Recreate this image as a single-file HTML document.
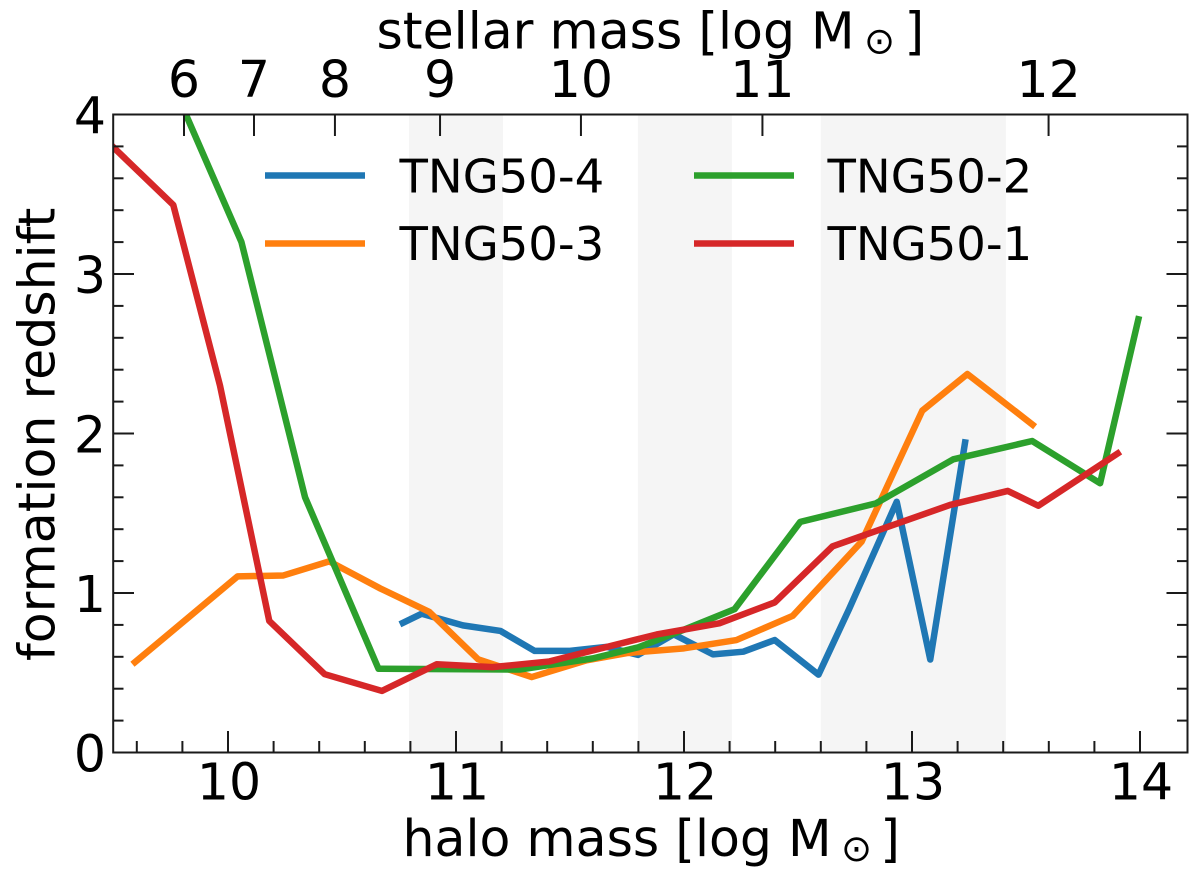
<!DOCTYPE html>
<html lang="en">
<head>
<meta charset="utf-8">
<title>Formation redshift vs halo mass</title>
<style>
  html, body { margin: 0; padding: 0; background: #fff; }
  svg { display: block; font-family: "DejaVu Sans", "Liberation Sans", sans-serif; }
  text { fill: #000; }
</style>
</head>
<body>
<svg id="chart" xmlns="http://www.w3.org/2000/svg" width="1200" height="877" viewBox="0 0 1200 877">
  <defs>
    <clipPath id="plot-clip"><rect x="113" y="114.5" width="1075" height="638"></rect></clipPath>
  </defs>
  <g id="bands"></g>
  <g id="series" clip-path="url(#plot-clip)"></g>
  <g id="ticks"></g>
  <rect x="113.2" y="114.5" width="1074.3" height="638" fill="none" stroke="#1a1a1a" stroke-width="2"></rect>
  <g id="labels" font-size="50.5"></g>

  <text x="376.5" y="48.5" font-size="50.5">stellar mass [log M<tspan font-size="37" x="864" dy="5">⊙</tspan><tspan x="904.5" dy="-5">]</tspan></text>
  <text x="402.5" y="856" font-size="50.5">halo mass [log M<tspan font-size="37" x="841" dy="5">⊙</tspan><tspan x="880.3" dy="-5">]</tspan></text>
  <text transform="translate(54.5,661) rotate(-90)" font-size="50.5">formation redshift</text>

  <g>
    <g>
      <line x1="265" x2="365" y1="175.5" y2="175.5" stroke="#1f77b4" stroke-width="6.5"></line>
      <text x="399.5" y="192.5" font-size="46.5">TNG50-4</text>
    </g>
    <g>
      <line x1="265" x2="365" y1="243.5" y2="243.5" stroke="#ff7f0e" stroke-width="6.5"></line>
      <text x="399.5" y="260" font-size="46.5">TNG50-3</text>
    </g>
    <g>
      <line x1="694" x2="794" y1="175.5" y2="175.5" stroke="#2ca02c" stroke-width="6.5"></line>
      <text x="827.5" y="192.5" font-size="46.5">TNG50-2</text>
    </g>
    <g>
      <line x1="694" x2="794" y1="243.5" y2="243.5" stroke="#d62728" stroke-width="6.5"></line>
      <text x="827.5" y="260" font-size="46.5">TNG50-1</text>
    </g>
  </g>
</svg>
<script>
// Series values: halo mass (x) and formation redshift (y)
const tng504X = [10.754, 10.85, 11.03, 11.195, 11.345, 11.5, 11.661, 11.798, 11.955, 12.127, 12.26, 12.398, 12.59, 12.724, 12.933, 13.08, 13.235];
const tng504Y = [0.804, 0.87, 0.797, 0.762, 0.637, 0.637, 0.662, 0.612, 0.741, 0.615, 0.632, 0.705, 0.488, 0.899, 1.572, 0.583, 1.964];
const tng503X = [9.581, 10.042, 10.243, 10.444, 10.67, 10.883, 11.097, 11.332, 11.573, 11.754, 12.0, 12.23, 12.477, 12.779, 12.911, 13.045, 13.243, 13.54];
const tng503Y = [0.553, 1.104, 1.11, 1.198, 1.027, 0.881, 0.584, 0.473, 0.578, 0.624, 0.653, 0.705, 0.857, 1.322, 1.73, 2.143, 2.373, 2.043];
const tng502X = [9.8, 10.059, 10.338, 10.66, 11.28, 11.6, 11.8, 12.0, 12.222, 12.51, 12.842, 13.181, 13.527, 13.825, 13.996];
const tng502Y = [4.05, 3.2, 1.6, 0.525, 0.52, 0.59, 0.66, 0.77, 0.899, 1.446, 1.562, 1.838, 1.953, 1.688, 2.736];
const tng501X = [9.45, 9.76, 9.965, 10.181, 10.424, 10.675, 10.915, 11.16, 11.41, 11.573, 11.88, 12.155, 12.398, 12.652, 13.167, 13.42, 13.554, 13.914];
const tng501Y = [3.86, 3.433, 2.3, 0.825, 0.491, 0.386, 0.553, 0.535, 0.571, 0.63, 0.74, 0.81, 0.941, 1.293, 1.552, 1.64, 1.547, 1.886];

// Shaded halo mass ranges
const bandStarts = [10.794, 11.798, 12.6];
const bandEnds = [11.206, 12.21, 13.412];

// Axis ticks
const xMajorTicks = [10, 11, 12, 13, 14];
const xMinorTicks = [9.6, 9.8, 10.2, 10.4, 10.6, 10.8, 11.2, 11.4, 11.6, 11.8, 12.2, 12.4, 12.6, 12.8, 13.2, 13.4, 13.6, 13.8];
const yMajorTicks = [0, 1, 2, 3, 4];
const yMinorTicks = [0.2, 0.4, 0.6, 0.8, 1.2, 1.4, 1.6, 1.8, 2.2, 2.4, 2.6, 2.8, 3.2, 3.4, 3.6, 3.8];
const stellarLabels = ['6', '7', '8', '9', '10', '11', '12'];
const stellarAtHalo = [9.807, 10.114, 10.469, 10.93, 11.548, 12.344, 13.599];

const NS = 'http://www.w3.org/2000/svg';
function xScale(v) { return 228 + (v - 10) * 228; }
function yScale(v) { return 752.5 - v * 159.5; }
function make(tag, parent) {
  const el = document.createElementNS(NS, tag);
  parent.appendChild(el);
  return el;
}
function tickLine(parent, x1, y1, x2, y2, width) {
  const el = make('line', parent);
  el.setAttribute('x1', x1);
  el.setAttribute('y1', y1);
  el.setAttribute('x2', x2);
  el.setAttribute('y2', y2);
  el.setAttribute('stroke', '#1a1a1a');
  el.setAttribute('stroke-width', width);
  return el;
}

const bandsG = document.getElementById('bands');
bandStarts.forEach(function (start, i) {
  const r = make('rect', bandsG);
  
  
  r.setAttribute('x', xScale(start));
  r.setAttribute('y', yScale(4));
  r.setAttribute('width', xScale(bandEnds[i]) - xScale(start));
  r.setAttribute('height', yScale(0) - yScale(4));
  r.setAttribute('fill', '#f5f5f5');
});

const seriesG = document.getElementById('series');
function drawSeries(xs, ys, color, name) {
  const p = make('polyline', seriesG);
  
  
  p.setAttribute('points', xs.map(function (x, i) { return xScale(x).toFixed(2) + ',' + yScale(ys[i]).toFixed(2); }).join(' '));
  p.setAttribute('fill', 'none');
  p.setAttribute('stroke', color);
  p.setAttribute('stroke-width', '6.5');
  p.setAttribute('stroke-linejoin', 'round');
  p.setAttribute('stroke-linecap', 'butt');
}
drawSeries(tng504X, tng504Y, '#1f77b4', 'line-tng50-4');
drawSeries(tng503X, tng503Y, '#ff7f0e', 'line-tng50-3');
drawSeries(tng502X, tng502Y, '#2ca02c', 'line-tng50-2');
drawSeries(tng501X, tng501Y, '#d62728', 'line-tng50-1');

const ticksG = document.getElementById('ticks');
xMajorTicks.forEach(function (v) {
  const t = tickLine(ticksG, xScale(v), 752, xScale(v), 731, 2);
  
  
});
xMinorTicks.forEach(function (v) {
  const t = tickLine(ticksG, xScale(v), 752, xScale(v), 741, 2);
  
  
});
yMajorTicks.forEach(function (v) {
  const l = tickLine(ticksG, 113, yScale(v), 134, yScale(v), 2);
  
  
  const r = tickLine(ticksG, 1187.5, yScale(v), 1166.5, yScale(v), 2);
  
  
});
yMinorTicks.forEach(function (v) {
  const l = tickLine(ticksG, 113, yScale(v), 123.5, yScale(v), 2);
  
  
  const r = tickLine(ticksG, 1187.5, yScale(v), 1177, yScale(v), 2);
  
  
});
stellarAtHalo.forEach(function (v) {
  const t = tickLine(ticksG, xScale(v), 115, xScale(v), 136, 2);
  
  
});

const labelsG = document.getElementById('labels');
xMajorTicks.forEach(function (v) {
  const t = make('text', labelsG);
  
  
  t.setAttribute('x', xScale(v) + 1);
  t.setAttribute('y', 799.5);
  t.setAttribute('text-anchor', 'middle');
  t.textContent = String(v);
});
yMajorTicks.forEach(function (v) {
  const t = make('text', labelsG);
  
  
  t.setAttribute('x', 106);
  t.setAttribute('y', yScale(v) + 19);
  t.setAttribute('text-anchor', 'end');
  t.textContent = String(v);
});
stellarLabels.forEach(function (label, i) {
  const t = make('text', labelsG);
  
  
  t.setAttribute('x', xScale(stellarAtHalo[i]));
  t.setAttribute('y', 97);
  t.setAttribute('text-anchor', 'middle');
  t.textContent = label;
});
</script>
</body>
</html>
